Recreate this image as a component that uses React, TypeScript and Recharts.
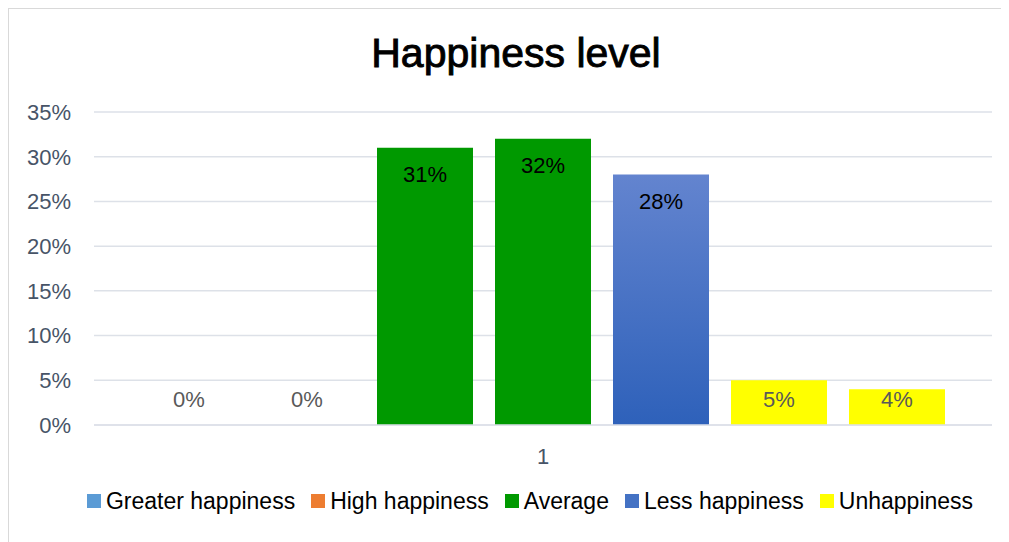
import React from "react";
import { BarChart, Bar, XAxis, YAxis, CartesianGrid, LabelList, Legend, Rectangle } from "recharts";

const categories = ["1"];
const seriesKeys = ["s1", "s2", "s3", "s4", "s5", "s6", "s7"];
const seriesValues = [0, 0, 0.31, 0.32, 0.28, 0.05, 0.04];
const seriesFills = ["#5B9BD5", "#ED7D31", "#009900", "#009900", "url(#lessGrad)", "#FFFF00", "#FFFF00"];
const labelColors = ["#595959", "#595959", "#000000", "#000000", "#000000", "#595959", "#595959"];
const legendNames = ["Greater happiness", "High happiness", "Average", "Less happiness", "Unhappiness"];
const legendColors = ["#5B9BD5", "#ED7D31", "#009900", "#4472C4", "#FFFF00"];
const yTicks = [0, 0.05, 0.1, 0.15, 0.2, 0.25, 0.3, 0.35];

const data = categories.map((c) => {
  const row: any = { name: c };
  seriesKeys.forEach((k, i) => (row[k] = seriesValues[i]));
  return row;
});

const pct = (v: number) => `${Math.round(v * 100)}%`;
const FONT = "'Liberation Sans', Arial, sans-serif";

// inside-end data label, kept above the baseline for short bars
const makeLabel = (color: string) => (props: any) => {
  const vb = props.viewBox || props;
  const x = Number(vb.x), y = Number(vb.y), w = Number(vb.width), h = Number(vb.height);
  const base = y + h;
  return (
    <text x={x + w / 2} y={Math.min(y + 27, base - 25.5)} textAnchor="middle" dominantBaseline="central"
      fill={color} fontSize={22} fontFamily={FONT}>
      {pct(Number(props.value))}
    </text>
  );
};

// zero bars get a 1px slot so recharts keeps them (and their label), but nothing is painted
const zeroSlot = (v: any) => (Number(v) === 0 ? 1 : 0);
const makeShape = (key: string) => (props: any) => {
  const v = props.payload ? Number(props.payload[key]) : Number(props.value);
  if (v === 0) return <g />;
  return <Rectangle {...props} />;
};

const LegendBox = () => (
  <div style={{ display: "flex", justifyContent: "center", alignItems: "center", height: 40, marginLeft: 45,
    fontFamily: FONT, fontSize: 23, color: "#000" }}>
    {legendNames.map((n, i) => (
      <div key={n} style={{ display: "flex", alignItems: "center", marginRight: i < legendNames.length - 1 ? 16 : 0 }}>
        <span style={{ width: 14, height: 14, background: legendColors[i], display: "inline-block", marginRight: 5 }} />
        <span>{n}</span>
      </div>
    ))}
  </div>
);

export default function App() {
  return (
    <div style={{ position: "relative", width: 997, height: 540, border: "1px solid #D9D9D9", background: "#fff" }}>
      <div style={{ position: "absolute", top: 24, left: 307, width: 400, textAlign: "center",
        fontFamily: FONT, fontSize: 41, lineHeight: "41px", color: "#000", WebkitTextStroke: "0.9px #000" }}>
        Happiness level
      </div>
      <BarChart width={997} height={530} data={data} barGap={22} barCategoryGap={47}
        margin={{ top: 103, right: 14, left: 0, bottom: 34 }}>
        <defs>
          <linearGradient id="lessGrad" x1="0" y1="0" x2="0" y2="1">
            <stop offset="0%" stopColor="#6384CF" />
            <stop offset="100%" stopColor="#2E61BA" />
          </linearGradient>
        </defs>
        <CartesianGrid vertical={false} stroke="#DDE1E8" strokeWidth={1.5} />
        <XAxis dataKey="name" axisLine={{ stroke: "#DDE1E8", strokeWidth: 1.5 }} tickLine={false} tickSize={0}
          tickMargin={23} height={40} tick={{ fill: "#475467", fontSize: 22, fontFamily: FONT }} />
        <YAxis domain={[0, 0.35]} ticks={yTicks} tickFormatter={pct} axisLine={false} tickLine={false}
          tickSize={0} tickMargin={23} width={85} tick={{ fill: "#475467", fontSize: 22, fontFamily: FONT }} />
        <Legend verticalAlign="bottom" content={<LegendBox />} wrapperStyle={{ bottom: 18, left: 0, width: 997 }} />
        {seriesKeys.map((k, i) => (
          <Bar key={k} dataKey={k} fill={seriesFills[i]} isAnimationActive={false}
            minPointSize={zeroSlot} shape={makeShape(k)}>
            <LabelList dataKey={k} content={makeLabel(labelColors[i])} />
          </Bar>
        ))}
      </BarChart>
    </div>
  );
}
